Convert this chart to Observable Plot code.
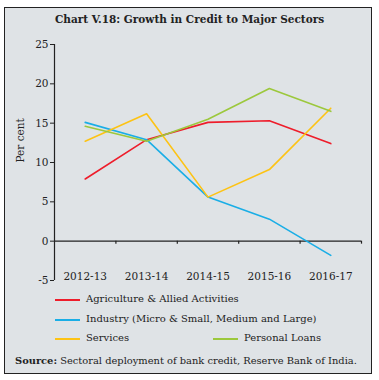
<!DOCTYPE html>
<html>
<head>
<meta charset="utf-8">
<script src="https://cdn.jsdelivr.net/npm/d3@7"></script>
<script src="https://cdn.jsdelivr.net/npm/@observablehq/plot@0.6"></script>
<style>
  html, body { margin: 0; padding: 0; background: #ffffff; }
  #page { position: relative; width: 379px; height: 380px; font-family: "DejaVu Serif", serif; color: #222; }
  #frame { position: absolute; left: 4px; top: 7px; width: 366px; height: 365px; border: 1.5px solid #222; background: #dfe3e6; }
  #title { position: absolute; left: 0; top: 13px; width: 379px; text-align: center; font-weight: bold; font-size: 10.5px; }
  #chart { position: absolute; left: 0; top: 30px; }
  .leg { position: absolute; font-size: 10px; white-space: nowrap; }
  .sw { position: absolute; height: 2px; width: 25px; }
  #source { position: absolute; left: 15px; top: 355px; font-size: 9.9px; white-space: nowrap; }
</style>
</head>
<body>
<div id="page">
  <div id="frame"></div>
  <div id="title">Chart V.18: Growth in Credit to Major Sectors</div>
  <div id="chart"></div>
  <div id="legend"></div>
  <div id="source"><b>Source:</b> Sectoral deployment of bank credit, Reserve Bank of India.</div>
</div>
<script>
const years = ["2012-13", "2013-14", "2014-15", "2015-16", "2016-17"];
const seriesNames = ["Agriculture & Allied Activities", "Industry (Micro & Small, Medium and Large)", "Services", "Personal Loans"];
const seriesColors = ["#ee1d2b", "#1aaee6", "#fdc314", "#9cc83c"];
const agriculture = [7.9, 12.9, 15.1, 15.3, 12.4];
const industry = [15.1, 12.9, 5.6, 2.8, -1.8];
const services = [12.7, 16.2, 5.6, 9.1, 16.9];
const personalLoans = [14.6, 12.7, 15.5, 19.4, 16.5];
const yTicks = [-5, 0, 5, 10, 15, 20, 25];

const allSeries = [agriculture, industry, services, personalLoans];
const rows = [];
allSeries.forEach((vals, s) => vals.forEach((v, i) => rows.push({series: seriesNames[s], i, value: v})));
const bounds = years.map((_, i) => i + 0.5);

const chart = Plot.plot({
  width: 379,
  height: 290,
  marginLeft: 54,
  marginRight: 18,
  marginTop: 14,
  marginBottom: 40,
  style: {background: "transparent", fontFamily: "DejaVu Serif, serif", fontSize: "10px", color: "#222"},
  x: {type: "linear", domain: [-0.5, years.length - 0.5]},
  y: {domain: [-5, 25]},
  color: {domain: seriesNames, range: seriesColors},
  marks: [
    Plot.ruleY([0], {stroke: "#222", strokeWidth: 1.2}),
    Plot.ruleX(bounds, {x: d => d, y1: 0, y2: 0, insetBottom: -3, stroke: "#222", strokeWidth: 1.2}),
    Plot.ruleX([-0.5], {y1: -5, y2: 25, stroke: "#222", strokeWidth: 1.2}),
    Plot.axisY({ticks: yTicks, tickSize: 4, tickPadding: 2, label: null, tickFormat: d => String(d), fontSize: 10.5}),
    Plot.axisX({ticks: years.map((_, i) => i), tickSize: 0, tickPadding: -8, tickFormat: i => years[i], label: null, fontSize: 10.5}),
    Plot.text(["Per cent"], {frameAnchor: "left", dx: -34, rotate: -90, fontSize: 10.5}),
    Plot.line(rows, {x: "i", y: "value", z: "series", stroke: "series", strokeWidth: 1.6})
  ]
});
document.getElementById("chart").appendChild(chart);

const legendPos = [
  {x: 55, y: 300}, {x: 55, y: 320}, {x: 55, y: 339}, {x: 213, y: 339}
];
const legend = document.getElementById("legend");
seriesNames.forEach((name, k) => {
  const p = legendPos[k];
  const sw = document.createElement("div");
  sw.className = "sw";
  sw.style.left = p.x + "px"; sw.style.top = (p.y - 1) + "px"; sw.style.background = seriesColors[k];
  legend.appendChild(sw);
  const t = document.createElement("div");
  t.className = "leg";
  t.style.left = (p.x + 31) + "px"; t.style.top = (p.y - 7) + "px";
  t.textContent = name;
  legend.appendChild(t);
});
</script>
</body>
</html>
